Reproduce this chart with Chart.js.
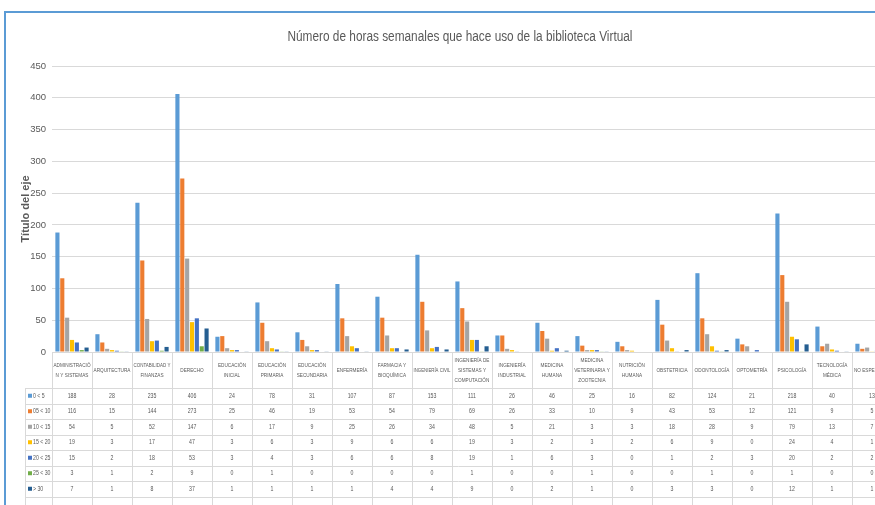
<!DOCTYPE html>
<html>
<head>
<meta charset="utf-8">
<script src="https://cdn.jsdelivr.net/npm/chart.js@4.4.1/dist/chart.umd.min.js"></script>
<style>
html, body { margin: 0; padding: 0; background: #fff; overflow: hidden; }
#chartBox { position: absolute; left: 0; top: 0; }
#frame { position: absolute; left: 4px; top: 11px; width: 900px; height: 520px;
  border-top: 2px solid #5b9bd5; border-left: 2px solid #5b9bd5; pointer-events: none; }
</style>
</head>
<body>
<div id="chartBox"><canvas id="barChart" width="900" height="505"></canvas></div>
<div id="frame"></div>
<script>
// Data
const categories = [
  ['ADMINISTRACIÓ', 'N Y SISTEMAS'], ['ARQUITECTURA'], ['CONTABILIDAD Y', 'FINANZAS'],
  ['DERECHO'], ['EDUCACIÓN', 'INICIAL'], ['EDUCACIÓN', 'PRIMARIA'], ['EDUCACIÓN', 'SECUNDARIA'],
  ['ENFERMERÍA'], ['FARMACIA Y', 'BIOQUÍMICA'], ['INGENIERÍA CIVIL'],
  ['INGENIERÍA DE', 'SISTEMAS Y', 'COMPUTACIÓN'], ['INGENIERÍA', 'INDUSTRIAL'],
  ['MEDICINA', 'HUMANA'], ['MEDICINA', 'VETERINARIA Y', 'ZOOTECNIA'], ['NUTRICIÓN', 'HUMANA'],
  ['OBSTETRICIA'], ['ODONTOLOGÍA'], ['OPTOMETRÍA'], ['PSICOLOGÍA'], ['TECNOLOGÍA', 'MÉDICA'],
  ['NO ESPECIFICA']
];
const seriesLabels = ['0 < 5', '05 < 10', '10 < 15', '15 < 20', '20 < 25', '25 < 30', '> 30'];
const horas0a5   = [188, 28, 235, 406, 24, 78, 31, 107, 87, 153, 111, 26, 46, 25, 16, 82, 124, 21, 218, 40, 13];
const horas5a10  = [116, 15, 144, 273, 25, 46, 19, 53, 54, 79, 69, 26, 33, 10, 9, 43, 53, 12, 121, 9, 5];
const horas10a15 = [54, 5, 52, 147, 6, 17, 9, 25, 26, 34, 48, 5, 21, 3, 3, 18, 28, 9, 79, 13, 7];
const horas15a20 = [19, 3, 17, 47, 3, 6, 3, 9, 6, 6, 19, 3, 2, 3, 2, 6, 9, 0, 24, 4, 1];
const horas20a25 = [15, 2, 18, 53, 3, 4, 3, 6, 6, 8, 19, 1, 6, 3, 0, 1, 2, 3, 20, 2, 2];
const horas25a30 = [3, 1, 2, 9, 0, 1, 0, 0, 0, 0, 1, 0, 0, 1, 0, 0, 1, 0, 1, 0, 0];
const horasMas30 = [7, 1, 8, 37, 1, 1, 1, 1, 4, 4, 9, 0, 2, 1, 0, 3, 3, 0, 12, 1, 1];
const yTicks = [0, 50, 100, 150, 200, 250, 300, 350, 400, 450];
const chartTitle = 'Número de horas semanales que hace uso de la biblioteca Virtual';

const allSeries = [horas0a5, horas5a10, horas10a15, horas15a20, horas20a25, horas25a30, horasMas30];
const colors = ['#5b9bd5', '#ed7d31', '#a5a5a5', '#ffc000', '#4472c4', '#70ad47', '#255e91'];
const sans = '"Liberation Sans", Arial, sans-serif';

// the original uses a narrow font, so text is squeezed horizontally
function narrowText(ctx, text, x, y, sx) {
  ctx.save();
  ctx.translate(x, y);
  ctx.scale(sx, 1);
  ctx.fillText(text, 0, 0);
  ctx.restore();
}

const narrowTitle = {
  id: 'narrowTitle',
  afterDraw(chart) {
    const ctx = chart.ctx;
    ctx.save();
    ctx.font = '14px ' + sans;
    ctx.fillStyle = '#595959';
    ctx.textAlign = 'center';
    ctx.textBaseline = 'middle';
    const w = ctx.measureText(chartTitle).width;
    narrowText(ctx, chartTitle, 460, 37, 345 / w);
    ctx.restore();
  }
};

// Excel-style data table drawn under the plot
const dataTable = {
  id: 'dataTable',
  afterDraw(chart) {
    const ctx = chart.ctx;
    const x = chart.scales.x;
    const area = chart.chartArea;
    const colW = x.width / categories.length;
    const headerBottom = area.bottom + 36;
    const rowH = 15.5;
    const bottom = chart.height;
    const tableLeft = 25;
    ctx.save();
    ctx.strokeStyle = '#d9d9d9';
    ctx.lineWidth = 1;
    ctx.beginPath();
    for (let k = 0; k <= allSeries.length; k++) {
      const y = Math.round(headerBottom + k * rowH) + 0.5;
      ctx.moveTo(tableLeft, y);
      ctx.lineTo(x.right, y);
    }
    for (let i = 0; i <= categories.length; i++) {
      const xx = Math.round(x.left + i * colW) + 0.5;
      ctx.moveTo(xx, area.bottom + 1);
      ctx.lineTo(xx, bottom);
    }
    ctx.moveTo(tableLeft + 0.5, headerBottom);
    ctx.lineTo(tableLeft + 0.5, bottom);
    ctx.stroke();

    ctx.fillStyle = '#595959';
    ctx.textAlign = 'center';
    ctx.textBaseline = 'middle';
    ctx.font = '6px ' + sans;
    categories.forEach((lab, i) => {
      const cx = x.getPixelForValue(i);
      const lh = 10;
      const y0 = area.bottom + 18 - (lab.length - 1) * lh / 2;
      lab.forEach((t, j) => {
        const w = ctx.measureText(t).width;
        narrowText(ctx, t, cx, y0 + j * lh, Math.min(0.78, (colW - 3) / w));
      });
    });

    ctx.font = '6.5px ' + sans;
    allSeries.forEach((vals, r) => {
      const cy = headerBottom + r * rowH + rowH / 2;
      ctx.fillStyle = colors[r];
      ctx.fillRect(tableLeft + 3, cy - 2, 4, 4);
      ctx.fillStyle = '#595959';
      ctx.textAlign = 'left';
      narrowText(ctx, seriesLabels[r], tableLeft + 8, cy, 0.8);
      ctx.textAlign = 'center';
      vals.forEach((v, i) => narrowText(ctx, String(v), x.getPixelForValue(i), cy, 0.8));
    });
    ctx.restore();
  }
};

const barCtx = document.getElementById('barChart').getContext('2d');
const barChart = new Chart(barCtx, {
  type: 'bar',
  data: {
    labels: categories,
    datasets: allSeries.map((vals, i) => ({
      label: seriesLabels[i],
      data: vals,
      backgroundColor: colors[i],
      categoryPercentage: 0.85,
      barPercentage: 0.85
    }))
  },
  options: {
    responsive: false,
    devicePixelRatio: 1,
    animation: false,
    layout: { padding: { left: 0, right: 8, top: 66, bottom: 145 } },
    plugins: {
      legend: { display: false },
      tooltip: { enabled: false },
      title: { display: false }
    },
    scales: {
      x: {
        ticks: { display: false },
        grid: { display: false },
        border: { display: true, color: '#d9d9d9' }
      },
      y: {
        min: 0,
        max: 450,
        afterBuildTicks: (axis) => { axis.ticks = yTicks.map(v => ({ value: v })); },
        afterFit: (axis) => { axis.width = 52; },
        ticks: { color: '#595959', font: { family: sans, size: 9.5 }, padding: 6 },
        grid: { color: '#d9d9d9', drawTicks: false },
        border: { display: false },
        title: {
          display: true,
          text: 'Título del eje',
          color: '#595959',
          font: { family: sans, size: 11, weight: 'bold' },
          padding: { top: 19, bottom: 0 }
        }
      }
    }
  },
  plugins: [dataTable, narrowTitle]
});
</script>
</body>
</html>
